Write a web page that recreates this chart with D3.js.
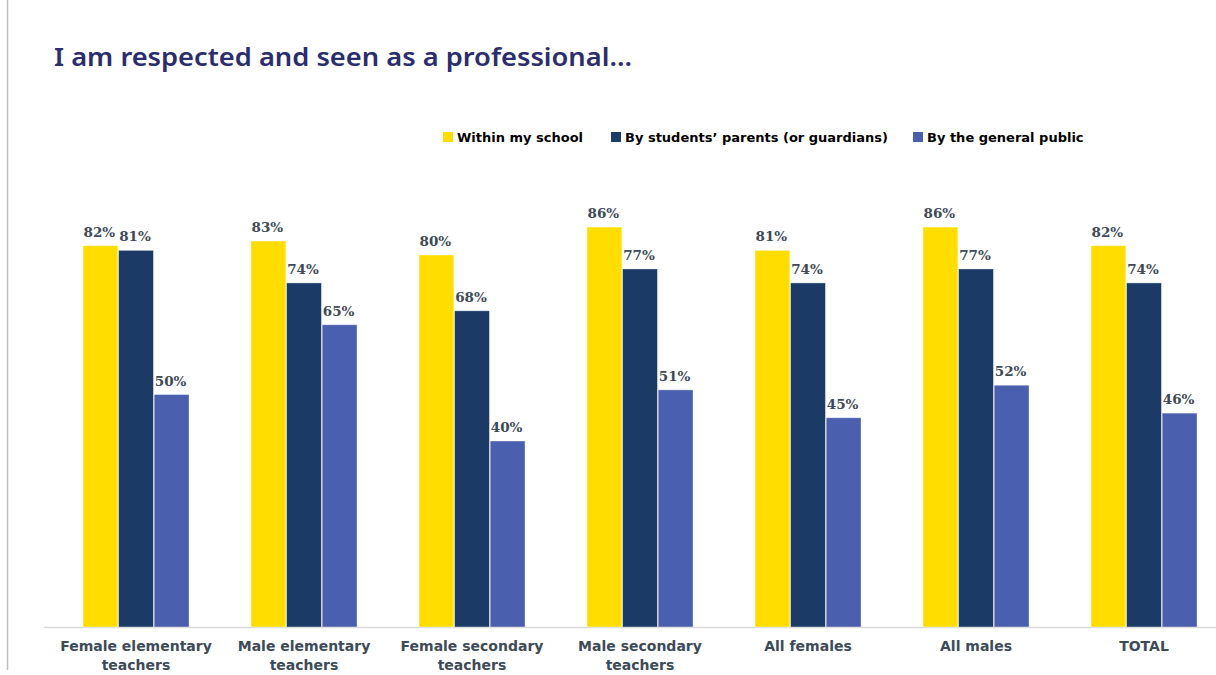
<!DOCTYPE html>
<html>
<head>
<meta charset="utf-8">
<script src="https://cdn.jsdelivr.net/npm/d3@7"></script>
<style>
  body { margin: 0; background: #fff; }
  svg { display: block; }
</style>
</head>
<body>
<div id="chart"></div>
<script>
// data
var categories = [
    ["Female elementary", "teachers"],
    ["Male elementary", "teachers"],
    ["Female secondary", "teachers"],
    ["Male secondary", "teachers"],
    ["All females"],
    ["All males"],
    ["TOTAL"]
];
var seriesNames = ["Within my school", "By students\u2019 parents (or guardians)", "By the general public"];
var withinSchool = [82, 83, 80, 86, 81, 86, 82];
var byParents = [81, 74, 68, 77, 74, 77, 74];
var byPublic = [50, 65, 40, 51, 45, 52, 46];
var colors = ["#FFDD00", "#1B3A66", "#4A5FAD"];

function init(){
    var w = 1216, h = 675;
    var svg = d3.select("#chart").append("svg")
        .attr("width", w)
        .attr("height", h);

    // left page border
    svg.append("line")
        .attr("x1", 7.5).attr("x2", 7.5)
        .attr("y1", 0).attr("y2", 670)
        .attr("stroke", "#bfbfbf").attr("stroke-width", 1.5);

    // title
    svg.append("text")
        .attr("x", 54).attr("y", 66)
        .attr("textLength", 578)
        .attr("lengthAdjust", "spacingAndGlyphs")
        .style("font-family", "'Noto Sans', sans-serif")
        .style("font-weight", "600")
        .style("font-size", "26px")
        .style("fill", "#2B2D6E")
        .text("I am respected and seen as a professional...");

    var catKeys = categories.map(d => d.join(" "));
    var values = [withinSchool, byParents, byPublic];

    // scales
    var x0 = d3.scaleBand()
        .domain(catKeys)
        .range([52, 1228])
        .paddingInner(0.36)
        .paddingOuter(0.18);
    var x1 = d3.scaleBand()
        .domain(d3.range(seriesNames.length))
        .range([0, x0.bandwidth()])
        .padding(0.02);
    var y = d3.scaleLinear()
        .domain([0, 100])
        .range([627, 162]);

    // baseline
    svg.append("line")
        .attr("x1", 44).attr("x2", w)
        .attr("y1", y(0) + 0.5).attr("y2", y(0) + 0.5)
        .attr("stroke", "#d9d9d9").attr("stroke-width", 1.5);

    // bars
    var groups = svg.selectAll(".grp")
        .data(catKeys)
        .enter().append("g")
        .attr("class", "grp")
        .attr("transform", d => "translate(" + x0(d) + ",0)");

    groups.selectAll("rect")
        .data((d, i) => values.map((v, s) => ({s: s, v: v[i]})))
        .enter().append("rect")
        .attr("x", d => x1(d.s))
        .attr("y", d => y(d.v))
        .attr("width", x1.bandwidth())
        .attr("height", d => y(0) - y(d.v))
        .attr("fill", d => colors[d.s])
        .attr("stroke", "#ffffff")
        .attr("stroke-opacity", 0.5)
        .attr("stroke-width", 0.8);

    groups.selectAll(".val")
        .data((d, i) => values.map((v, s) => ({s: s, v: v[i]})))
        .enter().append("text")
        .attr("class", "val")
        .attr("x", d => x1(d.s) + x1.bandwidth() / 2 - 1)
        .attr("y", d => y(d.v) - 9)
        .attr("text-anchor", "middle")
        .style("font-family", "'DejaVu Serif', serif")
        .style("font-weight", "bold")
        .style("font-size", "13.5px")
        .style("fill", "#3D4A57")
        .text(d => d.v + "%");

    // category labels
    var catLabels = svg.selectAll(".cat")
        .data(categories)
        .enter().append("text")
        .attr("class", "cat")
        .attr("x", (d, i) => x0(catKeys[i]) + x0.bandwidth() / 2)
        .attr("y", 651)
        .attr("text-anchor", "middle")
        .style("font-family", "'DejaVu Sans', sans-serif")
        .style("font-weight", "bold")
        .style("font-size", "14px")
        .style("fill", "#3D4A57");
    catLabels.selectAll("tspan")
        .data(d => d)
        .enter().append("tspan")
        .attr("x", function(){ return d3.select(this.parentNode).attr("x"); })
        .attr("dy", (d, i) => i == 0 ? 0 : 19)
        .text(d => d);

    // legend
    var legendX = [443, 611, 913];
    var legend = svg.selectAll(".leg")
        .data(seriesNames)
        .enter().append("g")
        .attr("class", "leg")
        .attr("transform", (d, i) => "translate(" + legendX[i] + ",137)");
    legend.append("rect")
        .attr("x", 0).attr("y", -5)
        .attr("width", 10).attr("height", 10)
        .attr("fill", (d, i) => colors[i]);
    legend.append("text")
        .attr("x", 14).attr("y", 5)
        .style("font-family", "'DejaVu Sans', sans-serif")
        .style("font-weight", "bold")
        .style("font-size", "13px")
        .style("fill", "#000")
        .text(d => d);
}
window.onload = init;
</script>
</body>
</html>
